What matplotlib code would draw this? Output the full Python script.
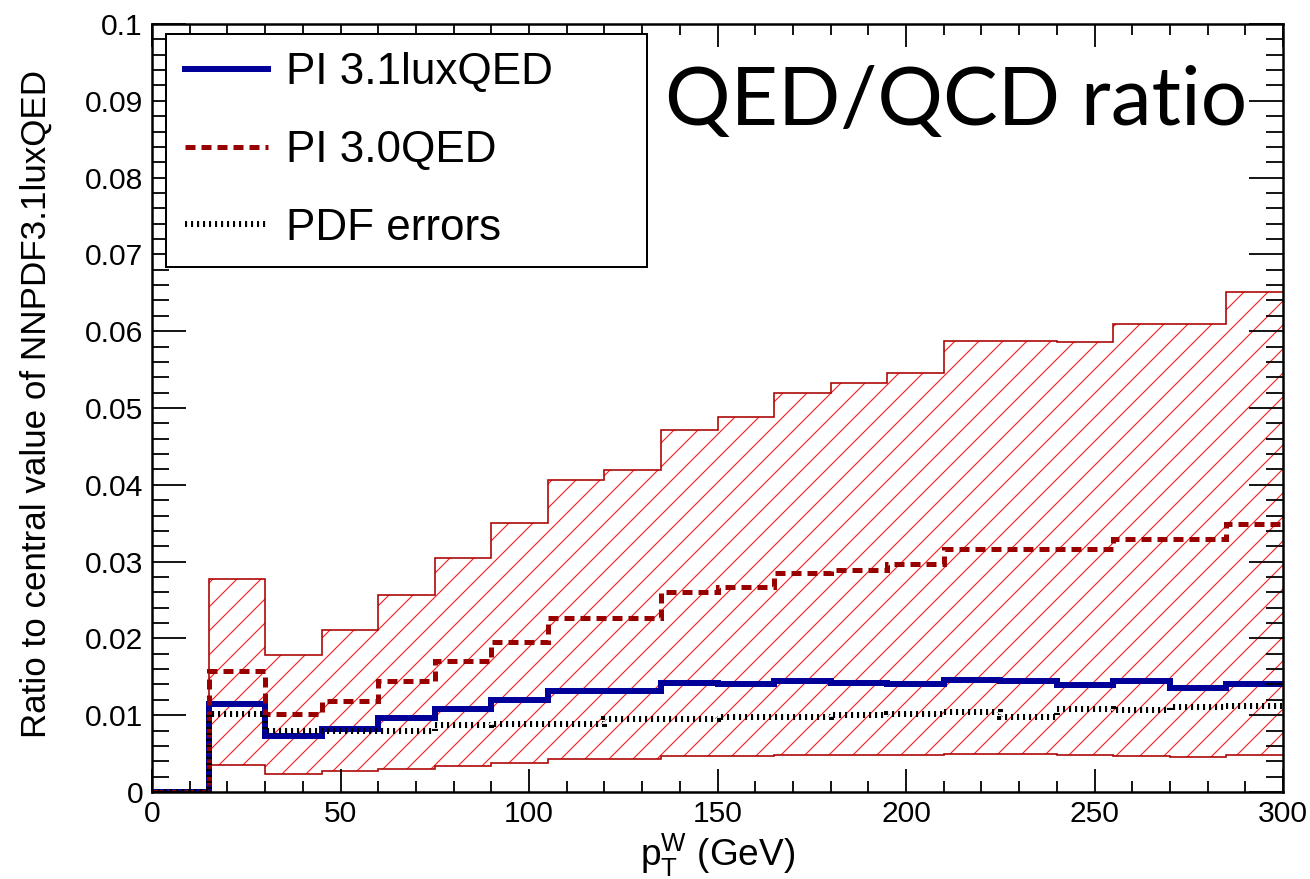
import numpy as np
import matplotlib
matplotlib.use('Agg')
import matplotlib.pyplot as plt
from matplotlib.ticker import MultipleLocator, FuncFormatter

plt.rcParams['font.family'] = ['Liberation Sans', 'DejaVu Sans']
plt.rcParams['mathtext.fontset'] = 'custom'
plt.rcParams['mathtext.rm'] = 'Liberation Sans'
plt.rcParams['hatch.linewidth'] = 1.1

# bins in pT^W (GeV)
bin_edges = np.arange(0, 301, 15)

# ratio values per bin
band_upper = [0, 0.0277, 0.0178, 0.0211, 0.0257, 0.0305, 0.0350, 0.0406, 0.0419, 0.0471,
              0.0488, 0.0520, 0.0533, 0.0546, 0.0587, 0.0587, 0.0586, 0.0609, 0.0610, 0.0651]
band_lower = [0, 0.0035, 0.0024, 0.0027, 0.0030, 0.0034, 0.0038, 0.0043, 0.0043, 0.0047,
              0.0047, 0.0048, 0.0048, 0.0048, 0.0049, 0.0049, 0.0048, 0.0047, 0.0046, 0.0048]
lux_qed = [0, 0.0115, 0.0073, 0.0082, 0.0096, 0.0108, 0.0120, 0.0132, 0.0132, 0.0142,
           0.0141, 0.0144, 0.0142, 0.0141, 0.0146, 0.0144, 0.0139, 0.0145, 0.0136, 0.0141]
qed30 = [0, 0.0157, 0.0102, 0.0118, 0.0144, 0.0171, 0.0195, 0.0226, 0.0226, 0.0261,
         0.0267, 0.0285, 0.0289, 0.0297, 0.0317, 0.0317, 0.0317, 0.0329, 0.0329, 0.0349]
pdf_err = [0, 0.0102, 0.0080, 0.0080, 0.0080, 0.0087, 0.0089, 0.0089, 0.0095, 0.0095,
           0.0098, 0.0098, 0.0100, 0.0102, 0.0104, 0.0098, 0.0108, 0.0107, 0.0111, 0.0112]

x_ticks = [0, 50, 100, 150, 200, 250, 300]

# dpi 72 -> 1 pt == 1 px
fig = plt.figure(figsize=(1310/72, 879/72), dpi=72)
ax = fig.add_axes([152/1310, 1-792/879, 1131/1310, 768/879])

# hatched band + outline
ax.stairs(band_upper, bin_edges, baseline=band_lower, fill=True, hatch='/',
          facecolor='none', edgecolor='#ff1a1a', linewidth=0)
ax.stairs(band_upper, bin_edges, baseline=None, color='#aa0000', linewidth=1.6)
ax.stairs(band_lower, bin_edges, baseline=None, color='#aa0000', linewidth=1.6)

ax.stairs(lux_qed, bin_edges, baseline=None, color='#000099', linewidth=6,
          label='PI 3.1luxQED')
ax.stairs(qed30, bin_edges, baseline=None, color='#990000', linewidth=5,
          linestyle=(0, (2.0, 1.2)), label='PI 3.0QED')
ax.stairs(pdf_err, bin_edges, baseline=None, color='black', linewidth=6,
          linestyle=(0, (0.35, 0.65)), label='PDF errors')

ax.set_xlim(0, 300)
ax.set_ylim(0, 0.1)
ax.set_xticks(x_ticks)
ax.xaxis.set_minor_locator(MultipleLocator(10))
ax.yaxis.set_major_locator(MultipleLocator(0.01))
ax.yaxis.set_minor_locator(MultipleLocator(0.002))
ax.yaxis.set_major_formatter(FuncFormatter(lambda v, p: f'{round(v, 3):g}'))

ax.tick_params(which='both', direction='in', top=True, right=True, labelsize=30, width=1.8)
ax.tick_params(axis='x', which='major', length=23, pad=8)
ax.tick_params(axis='x', which='minor', length=11)
ax.tick_params(axis='y', which='major', length=34, pad=9)
ax.tick_params(axis='y', which='minor', length=17)
for s in ax.spines.values():
    s.set_linewidth(2.5)

ax.set_xlabel(r'p$_{\mathrm{T}}^{\mathrm{W}}$ (GeV)', fontsize=37)
ax.xaxis.set_label_coords(0.5, -0.052)
ax.set_ylabel('Ratio to central value of NNPDF3.1luxQED', fontsize=35)
ax.yaxis.set_label_coords(-0.088, 0.505)

ax.text(0.968, 0.868, 'QED/QCD ratio', transform=ax.transAxes, ha='right',
        va='baseline', fontsize=82, family='Lato')

leg = ax.legend(loc='upper left', bbox_to_anchor=(0.0124, 0.686, 0.4256, 0.301),
                mode='expand', fontsize=44, handlelength=1.9, handletextpad=0.4,
                labelspacing=0.83, borderpad=0.42, fancybox=False, framealpha=1,
                edgecolor='black', borderaxespad=0)
leg.get_frame().set_linewidth(2)

fig.savefig('out.png', dpi=72)
